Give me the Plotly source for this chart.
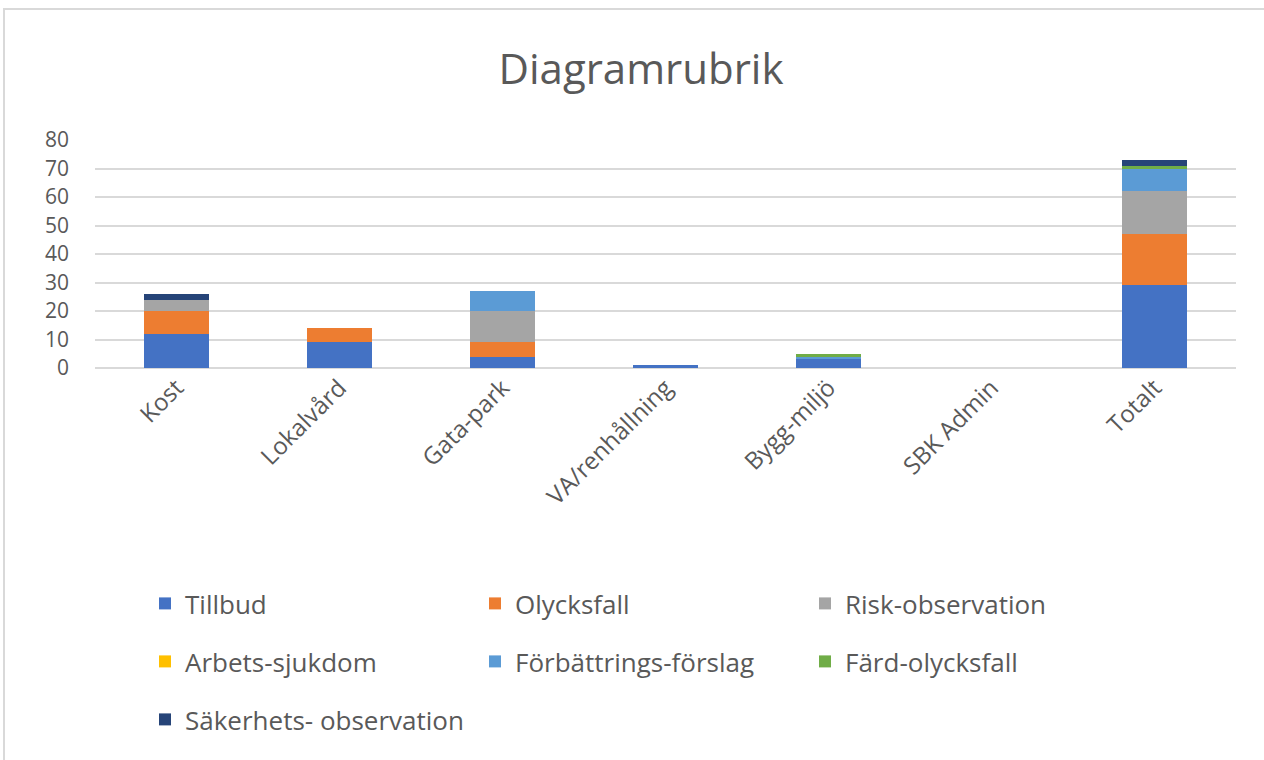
import plotly.graph_objects as go

categories = ["Kost", "Lokalvård", "Gata-park", "VA/renhållning", "Bygg-miljö", "SBK Admin", "Totalt"]

tillbud = [12, 9, 4, 1, 3, 0, 29]
olycksfall = [8, 5, 5, 0, 0, 0, 18]
risk_observation = [4, 0, 11, 0, 0, 0, 15]
arbets_sjukdom = [0, 0, 0, 0, 0, 0, 0]
forbattrings_forslag = [0, 0, 7, 0, 1, 0, 8]
fard_olycksfall = [0, 0, 0, 0, 1, 0, 1]
sakerhets_observation = [2, 0, 0, 0, 0, 0, 2]

series = [
    ("Tillbud", tillbud, "#4472C4"),
    ("Olycksfall", olycksfall, "#ED7D31"),
    ("Risk-observation", risk_observation, "#A5A5A5"),
    ("Arbets-sjukdom", arbets_sjukdom, "#FFC000"),
    ("Förbättrings-förslag", forbattrings_forslag, "#5B9BD5"),
    ("Färd-olycksfall", fard_olycksfall, "#70AD47"),
    ("Säkerhets- observation", sakerhets_observation, "#264478"),
]

font_family = "Open Sans, Noto Sans, sans-serif"
text_color = "#595959"

# three legend rows, three entries per row
legend_ids = ["legend", "legend2", "legend3"]

fig = go.Figure()
for i, (name, values, color) in enumerate(series):
    fig.add_trace(go.Bar(
        name=name, x=categories, y=values,
        marker=dict(color=color, line=dict(width=0)),
        legend=legend_ids[i // 3],
    ))

def legend_row(top_px):
    return dict(orientation="h", traceorder="normal",
                xref="container", yref="container",
                x=145 / 1264, xanchor="left", y=1 - top_px / 760, yanchor="top",
                entrywidth=285, entrywidthmode="pixels",
                itemwidth=30, bgcolor="rgba(0,0,0,0)",
                font=dict(size=26, color=text_color, family=font_family))

fig.update_layout(
    barmode="stack",
    bargap=0.6,
    width=1264, height=760,
    paper_bgcolor="white", plot_bgcolor="white",
    margin=dict(l=95, r=28, t=140, b=392),
    font=dict(family=font_family, color=text_color, size=24),
    title=dict(text="Diagramrubrik", x=641 / 1264, xanchor="center",
               y=1 - 69 / 760, yanchor="middle",
               font=dict(size=42, color=text_color, family=font_family)),
    xaxis=dict(tickangle=-45, showline=False, showgrid=False, ticks="",
               tickfont=dict(size=24, color=text_color)),
    yaxis=dict(range=[0, 80], dtick=10, showgrid=True, gridcolor="#d9d9d9",
               gridwidth=2, zeroline=True, zerolinecolor="#d9d9d9", zerolinewidth=2,
               ticks="", ticklabelstandoff=25,
               tickfont=dict(size=21, color=text_color)),
    legend=legend_row(580),
    legend2=legend_row(638),
    legend3=legend_row(696),
    shapes=[dict(type="rect", xref="paper", yref="paper",
                 x0=(4 - 95) / 1141, x1=(1275 - 95) / 1141,
                 y0=(368 - 775) / 228, y1=(368 - 9) / 228,
                 line=dict(color="#d9d9d9", width=2), layer="below")],
)

fig.write_html("out.html")
